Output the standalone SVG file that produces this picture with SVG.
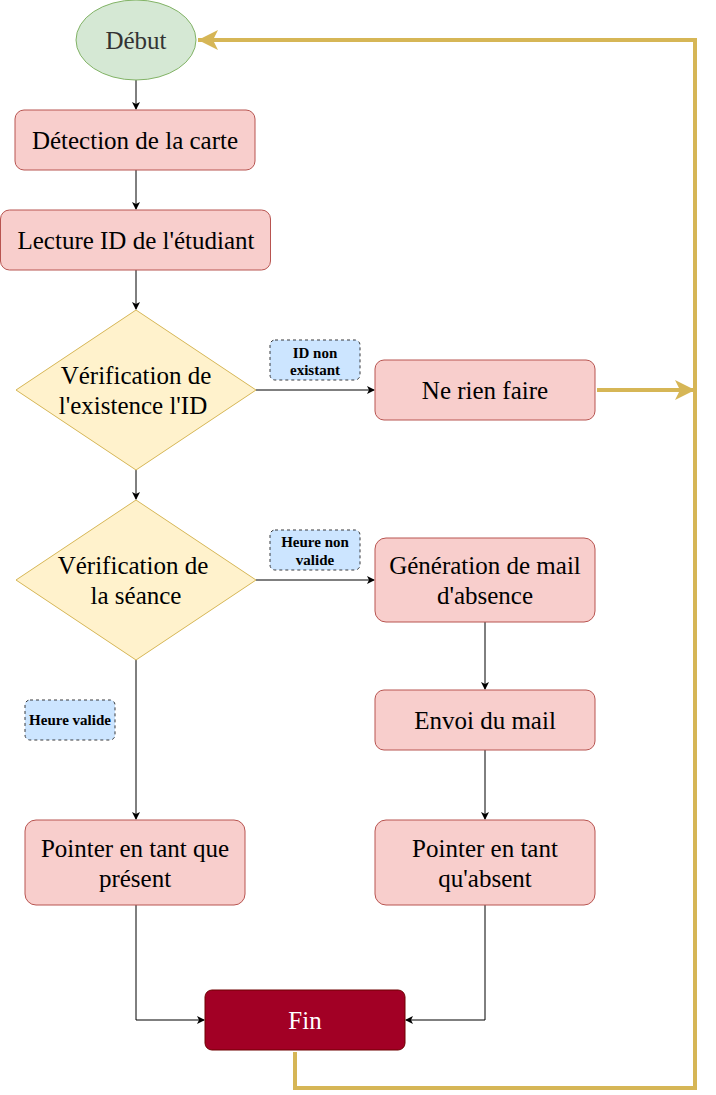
<svg xmlns="http://www.w3.org/2000/svg" width="716" height="1095" viewBox="0 0 716 1095">
<style>
text{font-family:'Liberation Serif','Times New Roman',Times,serif}
.t{font-size:25px;fill:#000;text-anchor:middle}
.l{font-size:15px;font-weight:bold;fill:#000;text-anchor:middle}
.box{fill:#f8cecc;stroke:#b85450;stroke-width:1}
.dia{fill:#fff2cc;stroke:#d6b656;stroke-width:1}
.lab{fill:#cce5ff;stroke:#36393d;stroke-width:1;stroke-dasharray:3 3}
.c{fill:none;stroke:#000;stroke-width:1}
.g{fill:none;stroke:#d6b656;stroke-width:4}
</style>
<defs>
<marker id="a" markerWidth="10" markerHeight="10" refX="8" refY="5" orient="auto" markerUnits="userSpaceOnUse">
<path d="M1,1 L9,5 L1,9 L3,5 Z" fill="#000"/>
</marker>
<marker id="ga" markerWidth="24" markerHeight="24" refX="22" refY="12" orient="auto" markerUnits="userSpaceOnUse">
<path d="M2,2 L22,12 L2,22 L7,12 Z" fill="#d6b656"/>
</marker>
</defs>
<g id="connectors">
<path class="c" d="M136,80 V109" marker-end="url(#a)"/>
<path class="c" d="M136,170 V209" marker-end="url(#a)"/>
<path class="c" d="M136,270 V309" marker-end="url(#a)"/>
<path class="c" d="M256,390 H374" marker-end="url(#a)"/>
<path class="c" d="M136,470 V499" marker-end="url(#a)"/>
<path class="c" d="M256,580 H374" marker-end="url(#a)"/>
<path class="c" d="M485,622 V689" marker-end="url(#a)"/>
<path class="c" d="M485,750 V819" marker-end="url(#a)"/>
<path class="c" d="M136,660 V819" marker-end="url(#a)"/>
<path class="c" d="M136,905 V1020 H204" marker-end="url(#a)"/>
<path class="c" d="M485,905 V1020 H406" marker-end="url(#a)"/>
<path class="g" d="M597,390 H695" marker-end="url(#ga)"/>
<path class="g" d="M295,1052 V1088 H695 V40 H198" marker-end="url(#ga)"/>
</g>
<g id="debut">
<ellipse cx="136" cy="40" rx="60" ry="40" fill="#d5e8d4" stroke="#82b366"/>
<text class="t" x="136" y="49" style="fill:#333">Début</text>
</g>
<g id="detection">
<rect class="box" x="15" y="110" width="240" height="60" rx="9"/>
<text class="t" x="135" y="149">Détection de la carte</text>
</g>
<g id="lecture">
<rect class="box" x="0.5" y="210" width="270" height="60" rx="9"/>
<text class="t" x="136" y="249">Lecture ID de l'étudiant</text>
</g>
<g id="verif-id">
<path class="dia" d="M136,310 L256,390 L136,470 L16,390 Z"/>
<text class="t" x="136" y="384">Vérification de</text>
<text class="t" x="133" y="414">l'existence l'ID</text>
</g>
<g id="label-id">
<rect class="lab" x="270" y="340" width="90" height="40" rx="5"/>
<text class="l" x="315" y="358">ID non</text>
<text class="l" x="315" y="375">existant</text>
</g>
<g id="rien">
<rect class="box" x="375" y="360" width="220" height="60" rx="9"/>
<text class="t" x="485" y="399">Ne rien faire</text>
</g>
<g id="verif-seance">
<path class="dia" d="M136,500 L256,580 L136,660 L16,580 Z"/>
<text class="t" x="133" y="574">Vérification de</text>
<text class="t" x="136" y="604">la séance</text>
</g>
<g id="label-nonvalide">
<rect class="lab" x="270" y="530" width="90" height="40" rx="5"/>
<text class="l" x="315" y="547">Heure non</text>
<text class="l" x="315" y="565">valide</text>
</g>
<g id="generation">
<rect class="box" x="375" y="538" width="220" height="84" rx="11"/>
<text class="t" x="485" y="574">Génération de mail</text>
<text class="t" x="485" y="604">d'absence</text>
</g>
<g id="envoi">
<rect class="box" x="375" y="690" width="220" height="60" rx="9"/>
<text class="t" x="485" y="729">Envoi du mail</text>
</g>
<g id="label-valide">
<rect class="lab" x="25" y="700" width="90" height="40" rx="5"/>
<text class="l" x="70" y="725">Heure valide</text>
</g>
<g id="present">
<rect class="box" x="25" y="820" width="220" height="85" rx="11"/>
<text class="t" x="135" y="857">Pointer en tant que</text>
<text class="t" x="135" y="887">présent</text>
</g>
<g id="absent">
<rect class="box" x="375" y="820" width="220" height="85" rx="11"/>
<text class="t" x="485" y="857">Pointer en tant</text>
<text class="t" x="485" y="887">qu'absent</text>
</g>
<g id="fin">
<rect x="205" y="990" width="200" height="60" rx="7" fill="#a20025" stroke="#6f0000"/>
<text class="t" x="305" y="1029" style="fill:#fff">Fin</text>
</g>
</svg>
